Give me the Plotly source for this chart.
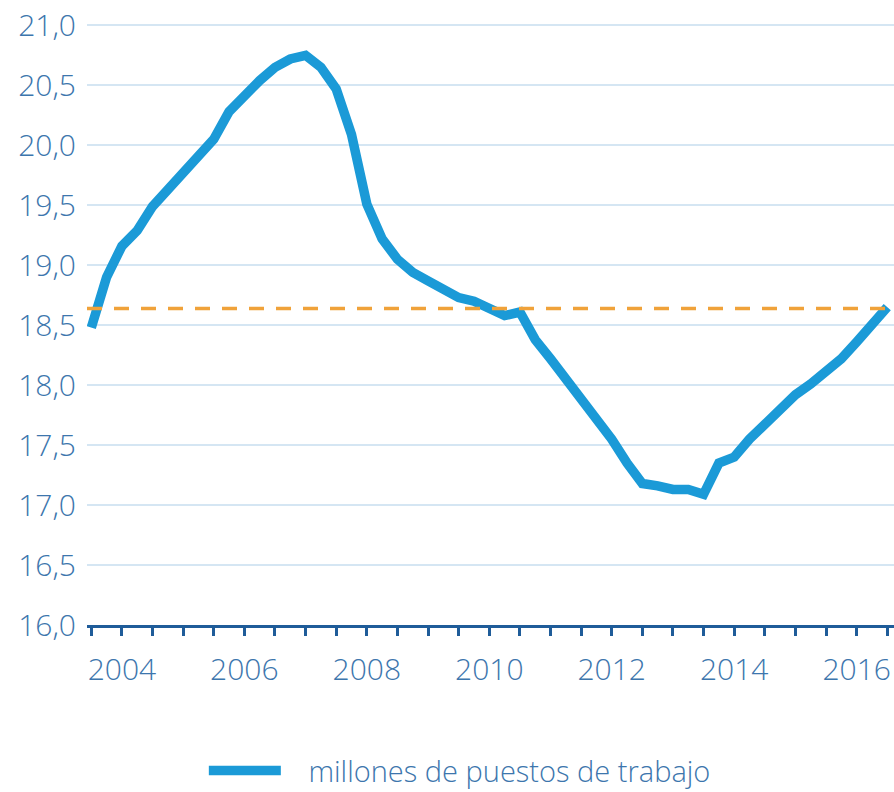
import plotly.graph_objects as go

# Quarterly data: 2003 Q3 ... 2016 Q3 (millions of jobs)
start_year = 2003
start_quarter = 3
jobs = [18.48, 18.90, 19.16, 19.29, 19.49, 19.63, 19.78, 19.91, 20.05, 20.28,
        20.42, 20.54, 20.65, 20.72, 20.75, 20.65, 20.47, 20.09, 19.51, 19.22,
        19.05, 18.94, 18.87, 18.80, 18.73, 18.70, 18.65, 18.58, 18.61, 18.38,
        18.22, 18.05, 17.89, 17.73, 17.55, 17.35, 17.18, 17.16, 17.13, 17.13,
        17.09, 17.35, 17.40, 17.55, 17.68, 17.81, 17.92, 18.01, 18.11, 18.22,
        18.36, 18.50, 18.65]
reference_level = 18.64
series_name = "millones de puestos de trabajo"
y_ticks = [16.0, 16.5, 17.0, 17.5, 18.0, 18.5, 19.0, 19.5, 20.0, 20.5, 21.0]
x_label_years = [2004, 2006, 2008, 2010, 2012, 2014, 2016]

# decimal-year position of each quarter
quarters = [start_year + (start_quarter - 1) / 4 + i / 4 for i in range(len(jobs))]

blue = "#1b9ad7"
text_col = "#3d76ad"
axis_col = "#1f5c99"
font_family = "Open Sans"

fig = go.Figure()
fig.add_trace(go.Scatter(
    x=quarters, y=jobs, mode="lines", name="\u00a0\u00a0\u00a0" + series_name,
    line=dict(color=blue, width=9.5),
))
fig.add_shape(type="line", xref="paper", x0=0, x1=1, yref="y",
              y0=reference_level, y1=reference_level,
              line=dict(color="#f0a23a", width=3.5, dash="15px,12px"))

fig.update_layout(
    width=894, height=792,
    margin=dict(l=87, r=0, t=23, b=167, autoexpand=False),
    paper_bgcolor="white", plot_bgcolor="white",
    separators=",.",
    font=dict(family=font_family, color=text_col, weight=300),
    showlegend=True,
    legend=dict(orientation="h", x=0.462, xanchor="center", y=-0.242, yanchor="middle",
                font=dict(size=29, color=text_col, family=font_family, weight=300),
                itemwidth=72, borderwidth=0),
)
fig.update_xaxes(
    range=[2003.43, 2016.61],
    tickmode="array", tickvals=x_label_years, ticktext=[str(y) for y in x_label_years],
    showline=True, linecolor=axis_col, linewidth=3,
    ticks="outside", ticklen=8, tickwidth=3, tickcolor=axis_col,
    minor=dict(tick0=start_year + (start_quarter - 1) / 4, dtick=0.5, ticks="outside",
               ticklen=8, tickwidth=3, tickcolor=axis_col, showgrid=False),
    showgrid=False, zeroline=False,
    tickfont=dict(size=30, color=text_col, family=font_family, weight=300),
    ticklabelstandoff=8,
)
fig.update_yaxes(
    range=[16.0, 21.02],
    tickmode="array", tickvals=y_ticks, tickformat=".1f",
    showgrid=True, gridcolor="#d5e6f3", gridwidth=1.5,
    zeroline=False, showline=False, ticks="",
    tickfont=dict(size=30, color=text_col, family=font_family, weight=300),
    ticklabelstandoff=10,
)
fig.write_html("out.html", config={"displayModeBar": False},
               post_script="document.body.style.margin='0';document.body.style.overflow='hidden';")
